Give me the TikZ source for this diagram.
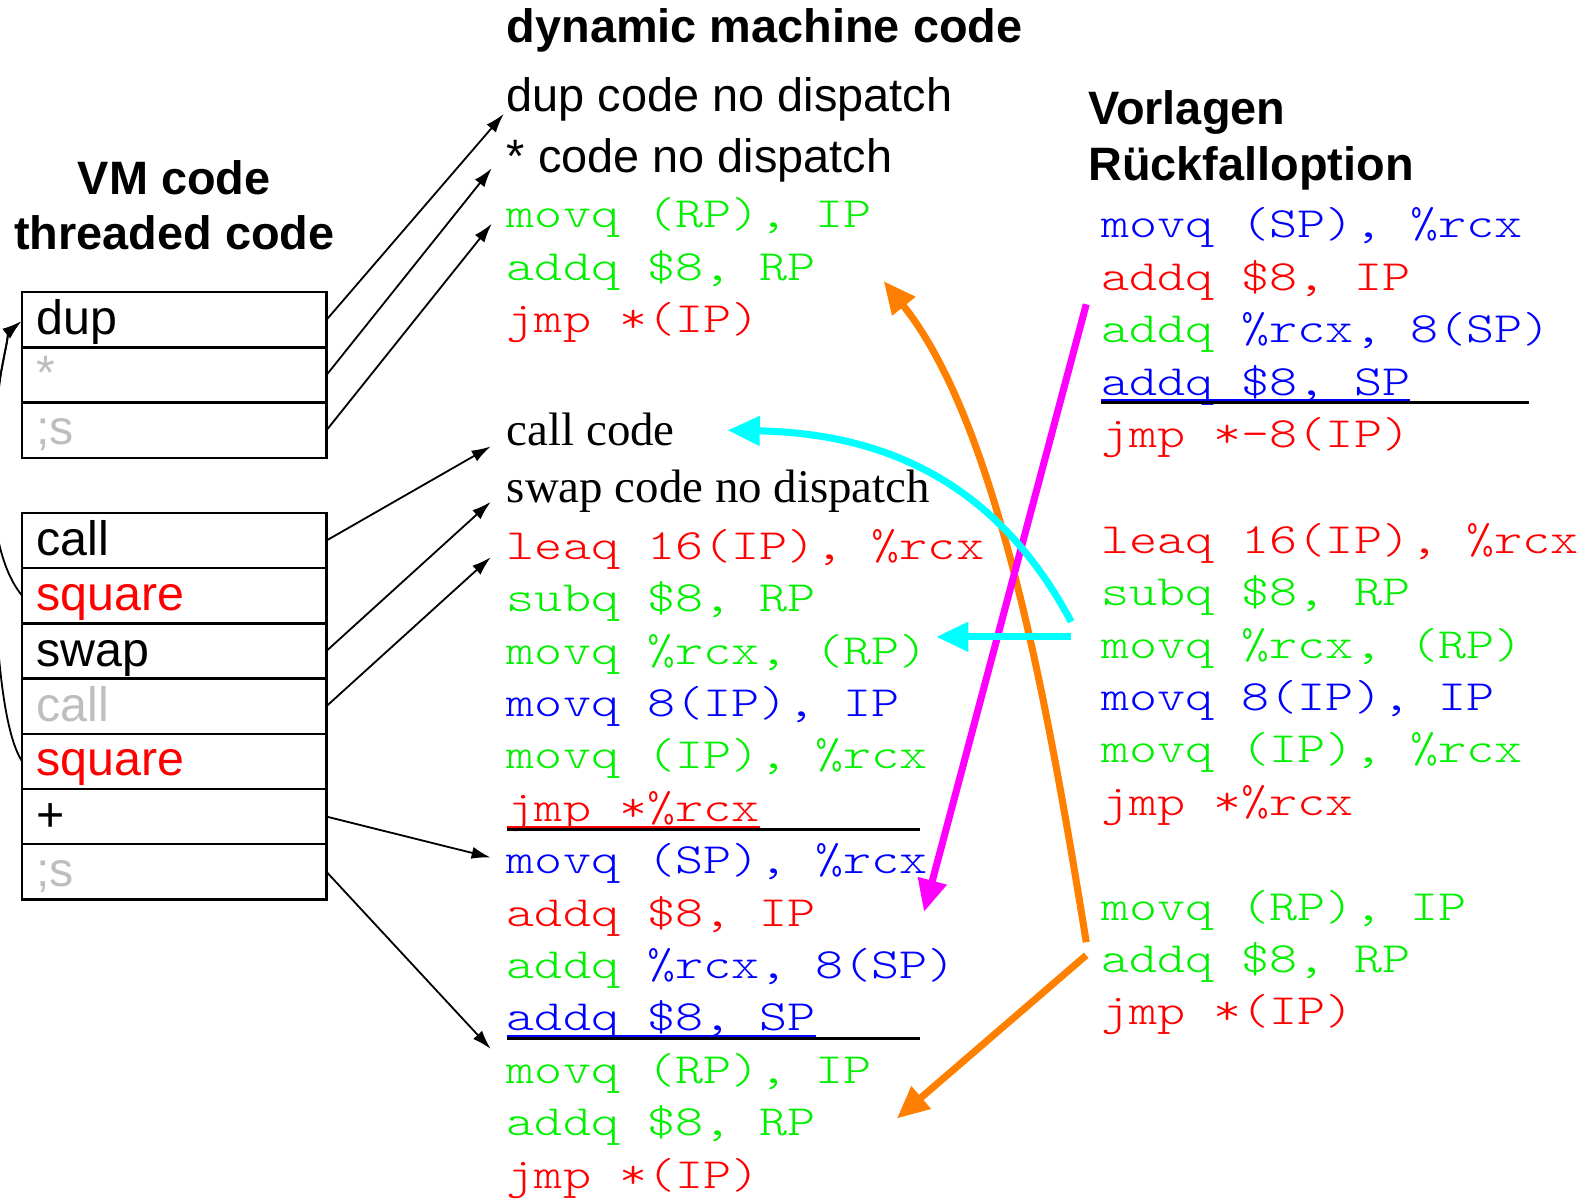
\documentclass[tikz,border=0pt]{standalone}
\usepackage{fontspec}
\setmainfont{Liberation Serif}
\setsansfont{Liberation Sans}
\newfontfamily\codefont[FakeStretch=1.24]{Latin Modern Mono Light}
\usetikzlibrary{arrows.meta}

\definecolor{cR}{RGB}{255,0,0}
\definecolor{cG}{RGB}{0,240,0}
\definecolor{cB}{RGB}{0,0,255}
\definecolor{cGray}{RGB}{190,190,190}
\definecolor{cOrange}{RGB}{255,128,0}
\definecolor{cMag}{RGB}{255,0,255}
\definecolor{cCyan}{RGB}{0,255,255}

\tikzset{
  txt/.style={anchor=base west, inner sep=0pt, outer sep=0pt},
  head/.style={txt, font=\sffamily\bfseries\fontsize{46.5}{50}\selectfont},
  headc/.style={head, anchor=base},
  sans/.style={txt, font=\sffamily\fontsize{46.5}{50}\selectfont},
  serif/.style={txt, font=\rmfamily\fontsize{46.5}{50}\selectfont},
  code/.style={txt, font=\codefont\fontsize{42.8}{50}\selectfont},
  lab/.style={txt, font=\sffamily\fontsize{48}{52}\selectfont},
  cell/.style={draw, line width=2.5pt, minimum width=302pt, minimum height=54.8pt,
    anchor=north west, inner sep=0pt, outer sep=0pt},
  ptr/.style={line width=1.8pt, -{Latex[length=19pt,width=12pt]}},
  fat/.style={line width=7pt, -{Triangle[length=32pt,width=28pt]}},
  rulebar/.style={line width=2.8pt, black},
  uline/.style={line width=2pt},
}

\begin{document}
\begin{tikzpicture}[x=1pt,y=-1pt]
\useasboundingbox (0,0) rectangle (1568,1189);
\begin{scope}
\clip (0,0) rectangle (1568,1189);

% ---------- headings ----------
\node[headc] (hvm) at (173,193) {VM code};
\node[headc] (hth) at (173,248) {threaded code};
\node[head] (hdyn) at (503,42) {dynamic machine code};
\node[head] (hvor) at (1080,124) {Vorlagen};
\node[head] (hrck) at (1080,179) {Rückfalloption};

% ---------- threaded code cells ----------
\node[cell] (d1) at (22,290) {};
\node[cell] (d2) at (22,344.8) {};
\node[cell] (d3) at (22,399.6) {};
\node[lab] (ld1) at (36,332) {dup};
\node[lab, text=cGray] (ld2) at (36,387) {*};
\node[lab, text=cGray] (ld3) at (36,441) {;s};

\node[cell] (s1) at (22,509) {};
\node[cell] (s2) at (22,563.8) {};
\node[cell] (s3) at (22,618.6) {};
\node[cell] (s4) at (22,673.4) {};
\node[cell] (s5) at (22,728.2) {};
\node[cell] (s6) at (22,783) {};
\node[cell] (s7) at (22,837.8) {};
\node[lab] (ls1) at (36,551) {call};
\node[lab, text=cR] (ls2) at (36,606) {square};
\node[lab] (ls3) at (36,661) {swap};
\node[lab, text=cGray] (ls4) at (36,716) {call};
\node[lab, text=cR] (ls5) at (36,770) {square};
\node[lab] (ls6) at (36,825) {+};
\node[lab, text=cGray] (ls7) at (36,880) {;s};

% ---------- dynamic machine code ----------
\node[sans] (m1) at (503,111) {dup code no dispatch};
\node[sans] (m2) at (503,171) {* code no dispatch};
\node[code, text=cG] (m3) at (503,226) {movq (RP), IP};
\node[code, text=cG] (m4) at (503,278) {addq \$8, RP};
\node[code, text=cR] (m5) at (503,330) {jmp *(IP)};

\node[serif] (m6) at (503,442) {call code};
\node[serif] (m7) at (503,499) {swap code no dispatch};
\node[code, text=cR] (m8) at (503,555) {leaq 16(IP), \%rcx};
\node[code, text=cG] (m9) at (503,607) {subq \$8, RP};
\node[code, text=cG] (m10) at (503,659) {movq \%rcx, (RP)};
\node[code, text=cB] (m11) at (503,711) {movq 8(IP), IP};
\node[code, text=cG] (m12) at (503,763) {movq (IP), \%rcx};
\node[code, text=cR] (m13) at (503,815) {jmp *\%rcx};
\node[code, text=cB] (m14) at (503,867) {movq (SP), \%rcx};
\node[code, text=cR] (m15) at (503,919) {addq \$8, IP};
\node[code] (m16) at (503,971) {\textcolor{cG}{addq} \textcolor{cB}{\%rcx, 8(SP)}};
\node[code, text=cB] (m17) at (503,1023) {addq \$8, SP};
\node[code, text=cG] (m18) at (503,1075) {movq (RP), IP};
\node[code, text=cG] (m19) at (503,1127) {addq \$8, RP};
\node[code, text=cR] (m20) at (503,1179) {jmp *(IP)};

\draw[uline, cR] ([yshift=-5.5pt]m13.base west) -- ([yshift=-5.5pt]m13.base east);
\draw[rulebar] ([yshift=-7.8pt]m13.base west) -- ++(410,0);
\draw[uline, cB] ([yshift=-5pt]m17.base west) -- ([yshift=-5pt]m17.base east);
\draw[rulebar] ([yshift=-7.5pt]m17.base west) -- ++(410,0);

% ---------- templates / fallback ----------
\node[code, text=cB] (v1) at (1093,236) {movq (SP), \%rcx};
\node[code, text=cR] (v2) at (1093,288) {addq \$8, IP};
\node[code] (v3) at (1093,340) {\textcolor{cG}{addq} \textcolor{cB}{\%rcx, 8(SP)}};
\node[code, text=cB] (v4) at (1093,392) {addq \$8, SP};
\node[code, text=cR] (v5) at (1093,444) {jmp *-8(IP)};
\draw[uline, cB] ([yshift=-5pt]v4.base west) -- ([yshift=-5pt]v4.base east);
\draw[rulebar] ([yshift=-7.5pt]v4.base west) -- ++(424,0);

\node[code, text=cR] (v6) at (1093,549) {leaq 16(IP), \%rcx};
\node[code, text=cG] (v7) at (1093,601) {subq \$8, RP};
\node[code, text=cG] (v8) at (1093,653) {movq \%rcx, (RP)};
\node[code, text=cB] (v9) at (1093,705) {movq 8(IP), IP};
\node[code, text=cG] (v10) at (1093,757) {movq (IP), \%rcx};
\node[code, text=cR] (v11) at (1093,809) {jmp *\%rcx};

\node[code, text=cG] (v12) at (1093,913) {movq (RP), IP};
\node[code, text=cG] (v13) at (1093,965) {addq \$8, RP};
\node[code, text=cR] (v14) at (1093,1017) {jmp *(IP)};

% ---------- pointers from threaded code ----------
\coordinate (t1) at (500,113);
\coordinate (t2) at (488,167);
\coordinate (t3) at (488,222);
\coordinate (t4) at (487,443);
\coordinate (t5) at (487,498);
\coordinate (t6) at (487,553);
\coordinate (t7) at (487,851);
\coordinate (t8) at (487,1041);
\draw[ptr] (d1.east) -- (t1);
\draw[ptr] (d2.east) -- (t2);
\draw[ptr] (d3.east) -- (t3);
\draw[ptr] (s1.east) -- (t4);
\draw[ptr] (s3.east) -- (t5);
\draw[ptr] (s4.east) -- (t6);
\draw[ptr] (s6.east) -- (t7);
\draw[ptr] (s7.east) -- (t8);

% calls of square return to dup, sharing one final stretch
\coordinate (dtip) at (21,319);
\coordinate (rjoin) at (1,370);
\draw[ptr] (s2.west) .. controls (-20,540) and (-8,420) .. (rjoin)
  .. controls (4,352) and (10,328) .. (dtip);
\draw[ptr] (s5.west) .. controls (-15,700) and (-8,420) .. (rjoin)
  .. controls (4,352) and (10,328) .. (dtip);

% ---------- template copying arrows ----------
\coordinate (o1) at (1078,935);
\coordinate (o1t) at (877,279);
\coordinate (o2) at (1078,948);
\coordinate (o2t) at (890,1110);
\coordinate (p1) at (1078,302);
\coordinate (p1t) at (917,905);
\coordinate (c1) at (1063,617);
\coordinate (c1t) at (722,427);
\coordinate (c2) at (1063,632);
\coordinate (c2t) at (929,632);

\draw[fat, cOrange] (o1) .. controls (1040,700) and (990,420) .. (o1t);
\draw[fat, cOrange] (o2) -- (o2t);
\draw[fat, cMag] (p1) -- (p1t);
\draw[fat, cCyan] (c1) .. controls (990,480) and (880,430) .. (c1t);
\draw[fat, cCyan] (c2) -- (c2t);
\end{scope}
\end{tikzpicture}
\end{document}
